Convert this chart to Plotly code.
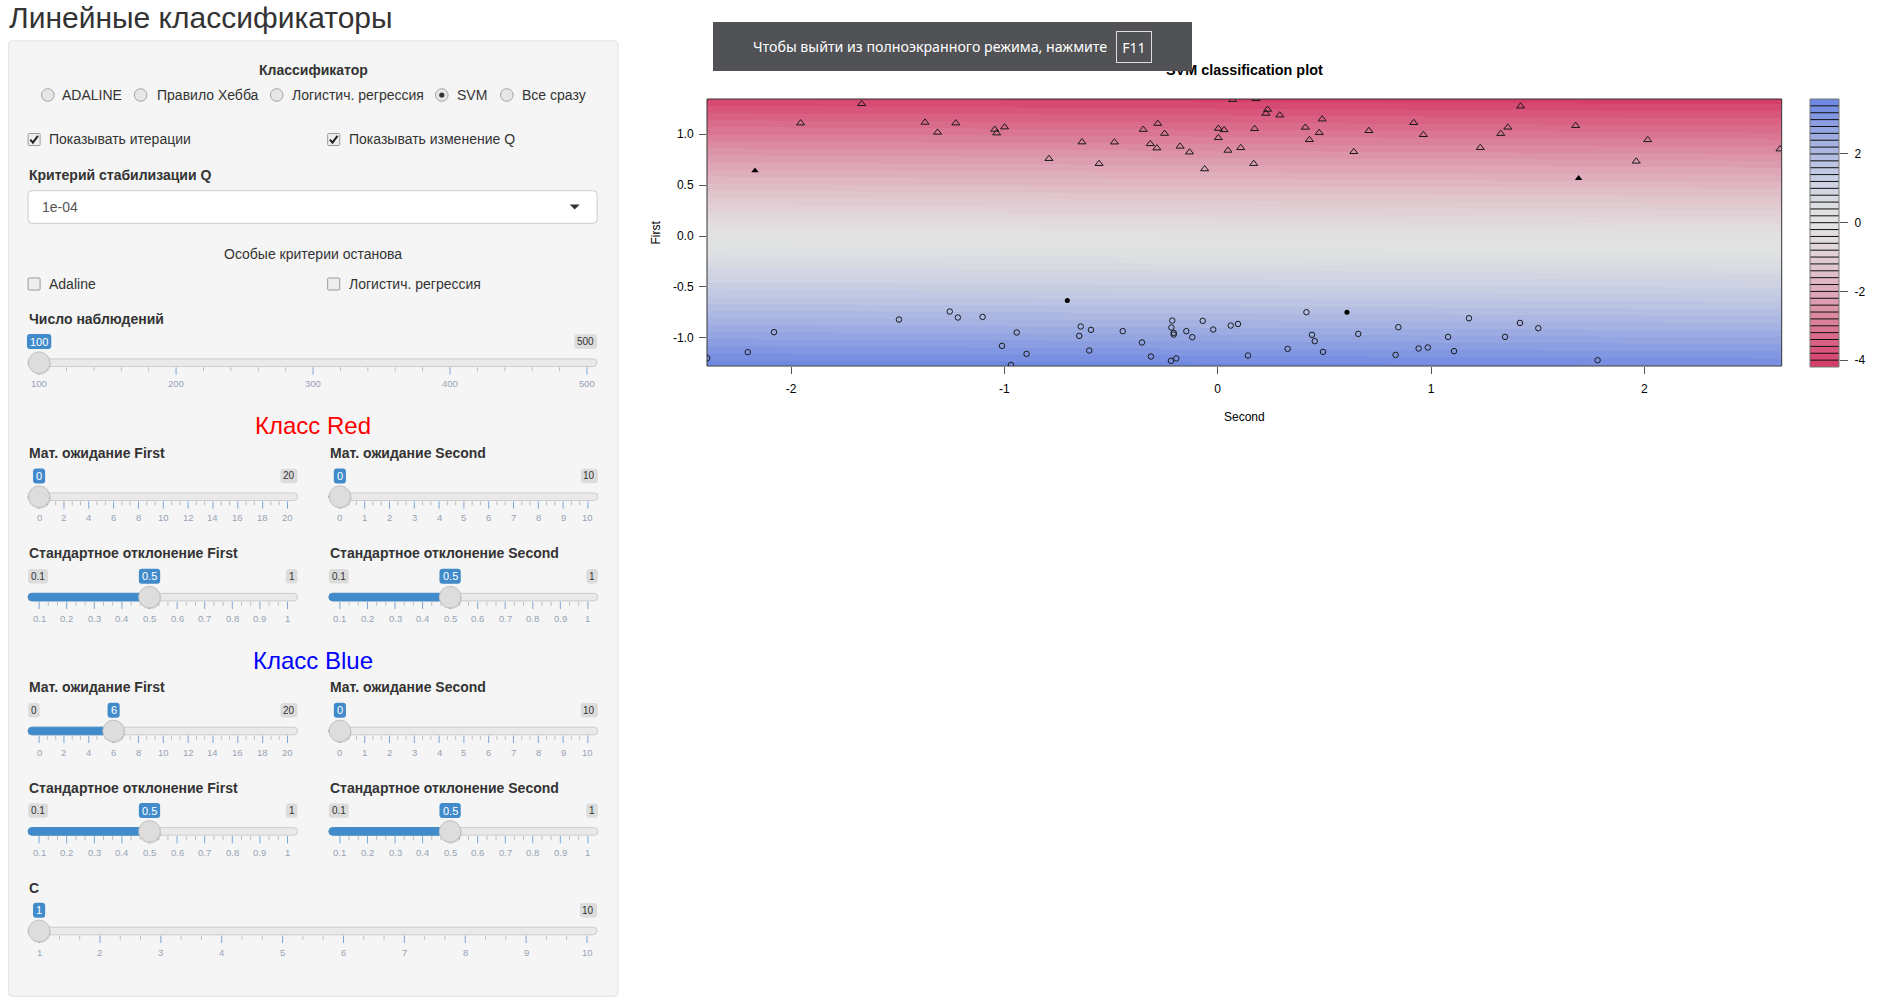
import numpy as np
import plotly.graph_objects as go

W, H = 1882, 1005
FONT = "Liberation Sans"

# ---------------- data: SVM classification plot ----------------
red_second = [-1.669, -1.955, -1.372, -1.313, -1.228, -1.045, -1.036, -0.999, -0.636, -0.791,
              -0.556, -0.349, -0.281, -0.249, -0.316, -0.285, -0.484, -0.176, -0.132, -0.061,
              0.003, 0.030, 0.003, 0.048, 0.070, 0.108, 0.180, 0.234, 0.226, 0.291,
              0.173, 0.169, 0.411, 0.490, 0.476, 0.430, 0.709, 0.638, 0.919, 0.964,
              1.231, 1.420, 1.360, 1.327, 1.678, 2.016, 1.962, 2.636]
red_first = [1.298, 1.108, 1.115, 1.017, 1.108, 1.046, 1.010, 1.069, 0.922, 0.759,
             0.710, 1.045, 1.104, 1.006, 0.905, 0.863, 0.921, 0.880, 0.823, 0.658,
             1.055, 1.042, 0.964, 0.840, 1.338, 0.866, 1.347, 1.242, 1.203, 1.186,
             1.053, 0.710, 1.066, 1.147, 1.014, 0.945, 1.033, 0.827, 1.112, 0.994,
             0.867, 1.274, 1.067, 1.005, 1.083, 0.944, 0.733, 0.853]
red_sv_second = [-2.169, 1.692]
red_sv_first = [0.641, 0.567]

blue_second = [-2.393, -2.203, -2.080, -1.494, -1.256, -1.218, -1.102, -0.942, -1.011, -0.896,
               -0.969, -0.642, -0.594, -0.649, -0.602, -0.445, -0.355, -0.313, -0.213, -0.217,
               -0.206, -0.206, -0.219, -0.194, -0.147, -0.119, -0.070, -0.021, 0.061, 0.095,
               0.142, 0.328, 0.416, 0.442, 0.455, 0.494, 0.659, 0.834, 0.847, 0.942,
               0.985, 1.080, 1.108, 1.178, 1.417, 1.503, 1.347, 1.781]
blue_first = [-1.199, -1.140, -0.944, -0.820, -0.741, -0.800, -0.794, -0.947, -1.078, -1.157,
              -1.265, -0.888, -0.921, -0.980, -1.124, -0.934, -1.045, -1.183, -0.830, -0.898,
              -0.951, -0.967, -1.225, -1.202, -0.934, -0.993, -0.833, -0.918, -0.879, -0.863,
              -1.173, -1.108, -0.748, -0.970, -1.032, -1.137, -0.961, -1.167, -0.895, -1.104,
              -1.094, -0.990, -1.130, -0.807, -0.853, -0.905, -0.990, -1.219]
blue_sv_second = [-0.705, 0.606]
blue_sv_first = [-0.634, -0.748]

# SVM decision function
svm_w_first = -2.88
svm_w_second = -0.03
svm_b = -0.197

x_range = [-2.394, 2.644]
y_range = [-1.276, 1.345]
x_ticks = [-2, -1, 0, 1, 2]
x_tick_labels = ["-2", "-1", "0", "1", "2"]
y_ticks = [1.0, 0.5, 0.0, -0.5, -1.0]
y_tick_labels = ["1.0", "0.5", "0.0", "-0.5", "-1.0"]
cb_ticks = [2, 0, -2, -4]
cb_tick_labels = ["2", "0", "-2", "-4"]
levels = [round(-4.2 + 0.2 * i, 1) for i in range(40)]

# ---------------- data: control panel ----------------
classifiers = ["ADALINE", "Правило Хебба", "Логистич. регрессия", "SVM", "Все сразу"]
selected_classifier = "SVM"
n_obs = dict(vmin=100, vmax=500, value=100, grid=["100", "200", "300", "400", "500"])
mean_first_grid = ["0", "2", "4", "6", "8", "10", "12", "14", "16", "18", "20"]
mean_second_grid = ["0", "1", "2", "3", "4", "5", "6", "7", "8", "9", "10"]
sd_grid = ["0.1", "0.2", "0.3", "0.4", "0.5", "0.6", "0.7", "0.8", "0.9", "1"]
c_grid = ["1", "2", "3", "4", "5", "6", "7", "8", "9", "10"]
red_mean_first, red_mean_second, red_sd_first, red_sd_second = 0, 0, 0.5, 0.5
blue_mean_first, blue_mean_second, blue_sd_first, blue_sd_second = 6, 0, 0.5, 0.5
c_value = 1

# ---------------- helpers (pixel -> paper) ----------------
shapes, annotations = [], []


def rrect(x0, y0, x1, y1, fill, line=None, lw=1, r=0):
    X0, X1 = x0 / W, x1 / W
    Yt, Yb = 1 - y0 / H, 1 - y1 / H
    rx, ry = r / W, r / H
    if r > 0:
        p = (f"M {X0+rx},{Yt} L {X1-rx},{Yt} Q {X1},{Yt} {X1},{Yt-ry} "
             f"L {X1},{Yb+ry} Q {X1},{Yb} {X1-rx},{Yb} L {X0+rx},{Yb} "
             f"Q {X0},{Yb} {X0},{Yb+ry} L {X0},{Yt-ry} Q {X0},{Yt} {X0+rx},{Yt} Z")
    else:
        p = f"M {X0},{Yt} L {X1},{Yt} L {X1},{Yb} L {X0},{Yb} Z"
    shapes.append(dict(type="path", path=p, xref="paper", yref="paper", fillcolor=fill,
                       line=dict(color=line or fill, width=lw if line else 0), layer="above"))


def circ(cx, cy, r, fill, line=None, lw=1):
    shapes.append(dict(type="circle", xref="paper", yref="paper",
                       x0=(cx - r) / W, x1=(cx + r) / W, y0=1 - (cy + r) / H, y1=1 - (cy - r) / H,
                       fillcolor=fill, line=dict(color=line or fill, width=lw if line else 0),
                       layer="above"))


def seg(x0, y0, x1, y1, color, lw=1):
    shapes.append(dict(type="line", xref="paper", yref="paper", x0=x0 / W, x1=x1 / W,
                       y0=1 - y0 / H, y1=1 - y1 / H, line=dict(color=color, width=lw),
                       layer="above"))


def poly(pts, fill=None, line=None, lw=1, close=True):
    p = "M " + " L ".join(f"{x / W},{1 - y / H}" for x, y in pts) + (" Z" if close else "")
    shapes.append(dict(type="path", path=p, xref="paper", yref="paper",
                       fillcolor=fill or "rgba(0,0,0,0)",
                       line=dict(color=line or "rgba(0,0,0,0)", width=lw if line else 0),
                       layer="above"))


def txt(x, y, s, size=14, color="#333333", anchor="left", family=FONT, angle=0,
        yanchor="middle", **kw):
    d = dict(x=x / W, y=1 - y / H, xref="paper", yref="paper", text=s, showarrow=False,
             xanchor=anchor, yanchor=yanchor, borderpad=0, textangle=angle,
             font=dict(family=family, size=size, color=color))
    d.update(kw)
    annotations.append(d)


def tw(s, size):
    w = 0
    for ch in s:
        w += 0.278 if ch == "." else 0.556
    return w * size


# ---------------- colours of the decision bands ----------------
GRAY = (226, 226, 226)
RED_END = (214, 62, 106)
BLUE_END = (80, 112, 226)


def band_color(v):
    t = min(1.0, abs(v) / 4.1)
    f = t ** 1.5
    e = RED_END if v < 0 else BLUE_END
    c = [round(g + (ee - g) * f) for g, ee in zip(GRAY, e)]
    return f"rgb({c[0]},{c[1]},{c[2]})"


nb = len(levels) - 1
band_cols = [band_color((levels[k] + levels[k + 1]) / 2) for k in range(nb)]
cscale = []
for k, c in enumerate(band_cols):
    cscale.append([k / nb, c])
    cscale.append([(k + 1) / nb, c])

# ---------------- figure ----------------
fig = go.Figure()

gx = np.linspace(x_range[0], x_range[1], 260)
gy = np.linspace(y_range[0], y_range[1], 560)
Z = svm_b + svm_w_first * gy[:, None] + svm_w_second * gx[None, :]
band = np.clip(np.floor((Z - levels[0]) / 0.2 + 1e-9), 0, nb - 1) + 0.5
fig.add_trace(go.Heatmap(x=gx, y=gy, z=band, colorscale=cscale, zmin=0, zmax=nb,
                         showscale=False, hoverinfo="skip", xaxis="x", yaxis="y"))

mk_line = "#1a1a1a"
fig.add_trace(go.Scatter(x=red_second, y=red_first, mode="markers", xaxis="x", yaxis="y",
                         marker=dict(symbol="triangle-up-open", size=7, color=mk_line,
                                     line=dict(width=1, color=mk_line)), showlegend=False))
fig.add_trace(go.Scatter(x=blue_second, y=blue_first, mode="markers", xaxis="x", yaxis="y",
                         marker=dict(symbol="circle-open", size=5.5, color=mk_line,
                                     line=dict(width=1, color=mk_line)), showlegend=False))
fig.add_trace(go.Scatter(x=red_sv_second, y=red_sv_first, mode="markers", xaxis="x", yaxis="y",
                         marker=dict(symbol="triangle-up", size=6.5, color="#000000"),
                         showlegend=False))
fig.add_trace(go.Scatter(x=blue_sv_second, y=blue_sv_first, mode="markers", xaxis="x", yaxis="y",
                         marker=dict(symbol="circle", size=5, color="#000000"),
                         showlegend=False))

# colour key
cb_centres = [(levels[k] + levels[k + 1]) / 2 for k in range(nb)]
fig.add_trace(go.Heatmap(x=[0], y=cb_centres, z=[[k + 0.5] for k in range(nb)],
                         colorscale=cscale, zmin=0, zmax=nb, showscale=False,
                         hoverinfo="skip", xaxis="x3", yaxis="y3"))

tickfont = dict(family=FONT, size=12, color="#000000")
px0, px1, py0, py1 = 707, 1781.7, 99, 366
fig.update_layout(
    width=W, height=H, margin=dict(l=0, r=0, t=0, b=0),
    paper_bgcolor="white", plot_bgcolor="white", showlegend=False,
    xaxis=dict(domain=[px0 / W, px1 / W], range=x_range, anchor="y", tickvals=x_ticks,
               ticktext=x_tick_labels, ticks="outside", ticklen=7, tickcolor="#555555",
               showgrid=False, zeroline=False, showline=False, tickfont=tickfont,
               fixedrange=True, ticklabelstandoff=5),
    yaxis=dict(domain=[1 - py1 / H, 1 - py0 / H], range=y_range, anchor="x", tickvals=y_ticks,
               ticktext=y_tick_labels, ticks="outside", ticklen=7, tickcolor="#555555",
               showgrid=False, zeroline=False, showline=False, tickfont=tickfont,
               fixedrange=True, ticklabelstandoff=3),
    xaxis3=dict(domain=[1810 / W, 1839 / W], range=[-0.5, 0.5], anchor="y3", visible=False,
                fixedrange=True),
    yaxis3=dict(domain=[1 - 367 / H, 1 - 99 / H], range=[levels[0], levels[-1]], anchor="x3",
                side="right", tickvals=cb_ticks, ticktext=cb_tick_labels, ticks="outside",
                ticklen=8, tickcolor="#555555", showgrid=False, zeroline=False,
                showline=False, tickfont=tickfont, fixedrange=True, ticklabelstandoff=4),
)

# plot frame and colour key separators
fig.add_shape(type="rect", xref="x domain", yref="y domain", x0=0, x1=1, y0=0, y1=1,
              line=dict(color="#333333", width=1), layer="above")
for lv in levels[1:-1]:
    fig.add_shape(type="line", xref="x3 domain", yref="y3", x0=0, x1=1, y0=lv, y1=lv,
                  line=dict(color="#111111", width=1), layer="above")
fig.add_shape(type="rect", xref="x3 domain", yref="y3 domain", x0=0, x1=1, y0=0, y1=1,
              line=dict(color="#777777", width=1), layer="above")

# plot texts
txt((px0 + px1) / 2, 70, "<b>SVM classification plot</b>", size=14.4, color="#000000",
    anchor="center")
txt((px0 + px1) / 2, 416.5, "Second", size=12, color="#000000", anchor="center")
txt(655, (py0 + py1) / 2, "First", size=12, color="#000000", anchor="center", angle=-90)

# full-screen toast (browser overlay)
annotations.append(dict(x=952.5 / W, y=1 - 46.2 / H, xref="paper", yref="paper", text="&nbsp;",
                        showarrow=False, xanchor="center", yanchor="middle", width=479,
                        height=49, bgcolor="#505256", borderpad=0, borderwidth=0,
                        font=dict(size=10, color="#505256")))
txt(752, 47, "Чтобы выйти из полноэкранного режима, нажмите", size=14.2, color="#ffffff",
    family="Noto Sans")
annotations.append(dict(x=1134 / W, y=1 - 47 / H, xref="paper", yref="paper", text="F11",
                        showarrow=False, xanchor="center", yanchor="middle", width=34,
                        height=30, bordercolor="#dddddd", borderwidth=1, borderpad=0,
                        font=dict(family="Noto Sans", size=14, color="#ffffff")))

# ---------------- left control panel ----------------
txt(8, 0.5, "Линейные классификаторы", size=30, color="#333333", yanchor="top")
rrect(8.4, 40.8, 618, 996.3, "#f5f5f5", "#e3e3e3", 1, 4)

txt(313, 70, "<b>Классификатор</b>", anchor="center")
radio_x = [47.8, 140.6, 276.7, 441.8, 506.8]
label_x = [61.4, 155.8, 290.8, 456.2, 520.9]
for rx, lx, name in zip(radio_x, label_x, classifiers):
    circ(rx, 95, 6.3, "#e6e6e6", "#a3a3a3", 1)
    if name == selected_classifier:
        circ(rx, 95, 2.6, "#333333")
    txt(lx, 95, name)


def checkbox(cx, cy, checked):
    rrect(cx - 6, cy - 6, cx + 6, cy + 6, "#eeeeee", "#9a9a9a", 1, 1)
    if checked:
        poly([(cx - 3.8, cy + 0.2), (cx - 1.2, cy + 3.2), (cx + 3.8, cy - 3.6)],
             line="#222222", lw=2, close=False)


checkbox(34.1, 139.5, True)
txt(48.2, 139.5, "Показывать итерации")
checkbox(333.7, 139.5, True)
txt(347.8, 139.5, "Показывать изменение Q")

txt(28.1, 175, "<b>Критерий стабилизации Q</b>")
rrect(28.1, 190.7, 597.2, 223.3, "#ffffff", "#cccccc", 1, 4)
txt(41.4, 207.3, "1e-04", color="#555555")
poly([(569.7, 204.5), (579.7, 204.5), (574.7, 209.5)], fill="#333333")

txt(312.7, 254.3, "Особые критерии останова", anchor="center")
checkbox(34.1, 284, False)
txt(48.2, 284, "Adaline")
checkbox(333.7, 284, False)
txt(347.8, 284, "Логистич. регрессия")


def slider(xl, xr, yb, yt, yl, vmin, vmax, val, grid, small, val_txt, min_txt, max_txt):
    hmin, hmax = xl + 11, xr - 10

    def pos(v):
        return hmin + (v - vmin) / (vmax - vmin) * (hmax - hmin)

    rrect(xl, yt - 3.8, xr, yt + 3.8, "#e9e9e9", "#cccccc", 1, 3.8)
    hx = pos(val)
    if hx - xl > 2:
        rrect(xl, yt - 3.8, hx, yt + 3.8, "#428bca", "#428bca", 1, 3.8)
    gpos = [hmin + i / (len(grid) - 1) * (hmax - hmin) for i in range(len(grid))]
    for i, g in enumerate(gpos):
        seg(g, yt + 4.6, g, yt + 12, "#7fa6d4", 1)
        if i > 0:
            for z in range(1, small + 1):
                sx = g - (g - gpos[i - 1]) * z / (small + 1)
                seg(sx, yt + 4.6, sx, yt + 8.6, "#bdbdbd", 1)
        txt(g, yl, grid[i], size=9.5, color="#97a3b4", anchor="center")
    circ(hx + 0.8, yt + 1.2, 10.8, "rgba(0,0,0,0.12)")
    circ(hx, yt, 10.8, "#dddddd", "#c2c2c2", 1)
    # max / min labels
    mw = tw(max_txt, 10) + 6
    rrect(xr - mw, yb - 7.2, xr, yb + 7.2, "#dcdcdc", None, 0, 3)
    txt(xr - mw / 2, yb, max_txt, size=10, color="#333333", anchor="center")
    vw = tw(val_txt, 11) + 6
    nw = tw(min_txt, 10) + 6
    if hx - vw / 2 > xl + nw + 2:
        rrect(xl, yb - 7.2, xl + nw, yb + 7.2, "#dcdcdc", None, 0, 3)
        txt(xl + nw / 2, yb, min_txt, size=10, color="#333333", anchor="center")
    rrect(hx - vw / 2, yb - 7.5, hx + vw / 2, yb + 7.5, "#428bca", None, 0, 3)
    txt(hx, yb, val_txt, size=11, color="#ffffff", anchor="center")


def fmt(v):
    return ("%g" % v)


LX, LR, RX, RR, FR = 28.1, 297.5, 328.9, 597.9, 597.0

txt(28.1, 319, "<b>Число наблюдений</b>")
slider(LX, FR, 341.5, 362.7, 383.3, n_obs["vmin"], n_obs["vmax"], n_obs["value"], n_obs["grid"],
       4, fmt(n_obs["value"]), fmt(n_obs["vmin"]), fmt(n_obs["vmax"]))


def class_block(dy, title, color, mf, ms, sf, ss):
    txt(312.8, 426 + dy, title, size=24, color=color, anchor="center")
    txt(LX, 453 + dy, "<b>Мат. ожидание First</b>")
    txt(RX, 453 + dy, "<b>Мат. ожидание Second</b>")
    slider(LX, LR, 476 + dy, 496.7 + dy, 517.7 + dy, 0, 20, mf, mean_first_grid, 2,
           fmt(mf), "0", "20")
    slider(RX, RR, 476 + dy, 496.7 + dy, 517.7 + dy, 0, 10, ms, mean_second_grid, 2,
           fmt(ms), "0", "10")
    txt(LX, 553.4 + dy, "<b>Стандартное отклонение First</b>")
    txt(RX, 553.4 + dy, "<b>Стандартное отклонение Second</b>")
    slider(LX, LR, 576.3 + dy, 597.1 + dy, 618 + dy, 0.1, 1, sf, sd_grid, 2, fmt(sf), "0.1", "1")
    slider(RX, RR, 576.3 + dy, 597.1 + dy, 618 + dy, 0.1, 1, ss, sd_grid, 2, fmt(ss), "0.1", "1")


class_block(0, "Класс Red", "#ff0000", red_mean_first, red_mean_second, red_sd_first,
            red_sd_second)
class_block(234.3, "Класс Blue", "#0000ff", blue_mean_first, blue_mean_second, blue_sd_first,
            blue_sd_second)

txt(28.1, 887.7, "<b>C</b>")
slider(LX, FR, 910.3, 931, 952.1, 1, 10, c_value, c_grid, 2, fmt(c_value), "1", "10")

fig.update_layout(shapes=list(fig.layout.shapes) + shapes, annotations=annotations)

fig.write_html("out.html", config={"displayModeBar": False},
               post_script="document.body.style.margin='0px';document.body.style.overflow='hidden';")
